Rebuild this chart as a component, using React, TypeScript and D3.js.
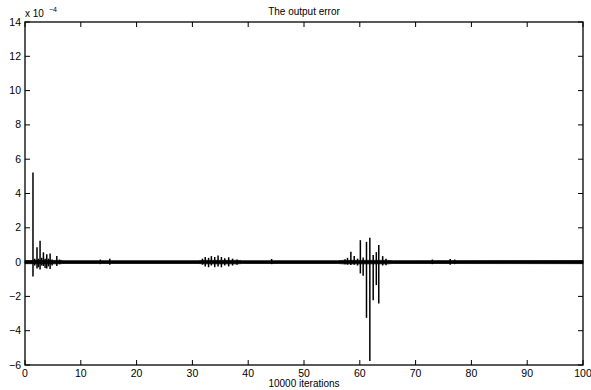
import React from "react";
import * as d3 from "d3";

const title = "The output error";
const xLabel = "10000 iterations";
const xTicks = [0, 10, 20, 30, 40, 50, 60, 70, 80, 90, 100];
const yTicks = [-6, -4, -2, 0, 2, 4, 6, 8, 10, 12, 14];

// spikes (units of 1e-4)
const spikeX = [
  1.43, 1.75, 2.15, 2.4, 2.7, 3.0, 3.3, 3.6, 3.9, 4.2, 4.5, 4.85, 5.7, 6.2,
  13.5, 15.2,
  31.8, 32.3, 32.9, 33.4, 34.0, 34.6, 35.2, 35.8, 36.5, 37.2, 38.0,
  44.2,
  57.35, 57.8, 58.4, 59.0, 59.6, 60.1, 60.6, 61.2, 61.8, 62.4, 62.96, 63.4, 64.1, 64.7,
  73.0, 76.2, 77.0,
];
const spikeHigh = [
  5.22, 0.2, 0.86, 0.2, 1.24, 0.25, 0.57, 0.2, 0.46, 0.2, 0.5, 0.15, 0.35, 0.15,
  0.15, 0.2,
  0.2, 0.3, 0.25, 0.35, 0.3, 0.38, 0.3, 0.22, 0.28, 0.2, 0.15,
  0.18,
  0.16, 0.25, 0.6, 0.35, 0.2, 1.28, 0.27, 1.18, 1.42, 0.41, 0.58, 0.99, 0.35, 0.2,
  0.15, 0.18, 0.15,
];
const spikeLow = [
  -0.84, -0.2, -0.37, -0.3, -0.43, -0.2, -0.23, -0.35, -0.37, -0.25, -0.4, -0.2, -0.23, -0.12,
  -0.12, -0.15,
  -0.15, -0.25, -0.3, -0.2, -0.3, -0.25, -0.3, -0.2, -0.25, -0.2, -0.15,
  -0.12,
  -0.12, -0.15, -0.17, -0.15, -0.2, -0.66, -0.8, -3.25, -5.77, -2.22, -1.34, -2.41, -0.2, -0.18,
  -0.12, -0.15, -0.12,
];

// envelope of the low-level noise band around zero
const bandX = [0, 6, 7, 31, 32, 38, 39, 56, 57, 65, 66, 100];
const bandAmp = [0.09, 0.1, 0.08, 0.08, 0.1, 0.1, 0.08, 0.08, 0.1, 0.1, 0.08, 0.09];

const W = 591;
const H = 390;
const M = { left: 25, right: 8, top: 22, bottom: 25 };
const FONT = "'Liberation Sans', Arial, Helvetica, sans-serif";

export default function App() {
  const x = d3.scaleLinear().domain([0, 100]).range([M.left, W - M.right]);
  const y = d3.scaleLinear().domain([-6, 14]).range([H - M.bottom, M.top]);
  const x0 = x(0), x1 = x(100), y0 = y(-6), y1 = y(14);
  const tl = 5;

  const band = d3
    .area<number>()
    .x((_, i) => x(bandX[i]))
    .y0((_, i) => y(-bandAmp[i]))
    .y1((_, i) => y(bandAmp[i]));

  return (
    <svg
      width={W}
      height={H}
      style={{ position: "absolute", left: 0, top: 0, background: "#fff" }}
      fontFamily={FONT}
    >
      <rect x={0} y={0} width={W} height={H} fill="#fff" />
      {/* noise band */}
      <path d={band(bandAmp) || ""} fill="#000" stroke="#000" strokeWidth={0.8} />
      {/* spikes */}
      {spikeX.map((v, i) => (
        <line
          key={i}
          x1={x(v)}
          x2={x(v)}
          y1={y(spikeHigh[i])}
          y2={y(spikeLow[i])}
          stroke="#000"
          strokeWidth={1.5}
        />
      ))}
      {/* axes box */}
      <rect x={x0} y={y1} width={x1 - x0} height={y0 - y1} fill="none" stroke="#000" strokeWidth={1.3} />
      {xTicks.map((t) => (
        <g key={"x" + t}>
          <line x1={x(t)} x2={x(t)} y1={y0} y2={y0 - tl} stroke="#000" />
          <line x1={x(t)} x2={x(t)} y1={y1} y2={y1 + tl} stroke="#000" />
          <text x={x(t)} y={y0 + 12} fontSize={10.5} textAnchor="middle">
            {t}
          </text>
        </g>
      ))}
      {yTicks.map((t) => (
        <g key={"y" + t}>
          <line x1={x0} x2={x0 + tl} y1={y(t)} y2={y(t)} stroke="#000" />
          <line x1={x1} x2={x1 - tl} y1={y(t)} y2={y(t)} stroke="#000" />
          <text x={x0 - 4} y={y(t) + 3.5} fontSize={10.5} textAnchor="end">
            {t < 0 ? "\u2212" + Math.abs(t) : t}
          </text>
        </g>
      ))}
      <text x={x0} y={y1 - 5} fontSize={10}>
        x 10
      </text>
      <text x={x0 + 24} y={y1 - 10} fontSize={7}>
        {"\u22124"}
      </text>
      <text x={(x0 + x1) / 2} y={y1 - 7} fontSize={10} textAnchor="middle">
        {title}
      </text>
      <text x={(x0 + x1) / 2} y={y0 + 22} fontSize={10} textAnchor="middle">
        {xLabel}
      </text>
    </svg>
  );
}
